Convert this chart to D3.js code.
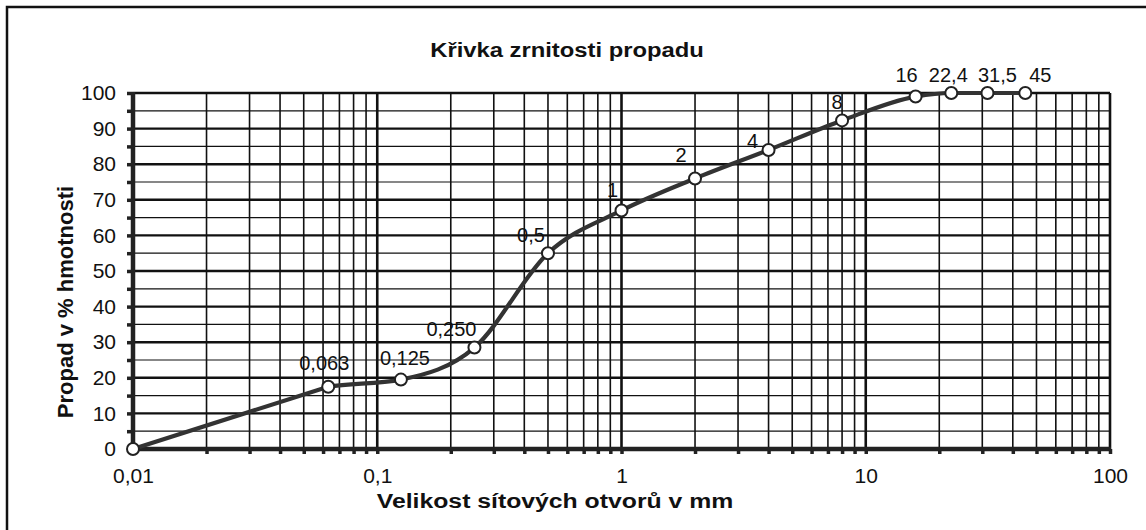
<!DOCTYPE html>
<html>
<head>
<meta charset="utf-8">
<script src="https://cdn.jsdelivr.net/npm/d3@7"></script>
<style>
  html, body { margin: 0; padding: 0; background: #fff; }
  svg { display: block; }
  text { font-family: Arial, "Liberation Sans", Helvetica, sans-serif; fill: #111; }
</style>
</head>
<body>
<svg id="chart" width="1146" height="530"></svg>
<script>
// ---- data ----
const sieveSizes = [0.01, 0.063, 0.125, 0.25, 0.5, 1, 2, 4, 8, 16, 22.4, 31.5, 45];
const passing    = [0, 17.5, 19.5, 28.5, 55, 67, 76, 84, 92.3, 99, 100, 100, 100];
const pointLabels = ["", "0,063", "0,125", "0,250", "0,5", "1", "2", "4", "8", "16", "22,4", "31,5", "45"];
const xTickValues = [0.01, 0.1, 1, 10, 100];
const xTickLabels = ["0,01", "0,1", "1", "10", "100"];
const yTickValues = [0, 10, 20, 30, 40, 50, 60, 70, 80, 90, 100];
const titleText = "Křivka zrnitosti propadu";
const xTitleText = "Velikost sítových otvorů v mm";
const yTitleText = "Propad v % hmotnosti";

// ---- layout (label placement offsets, px) ----
const labelOffsets = [[0,0],[-4,-17],[4,-15],[-23,-12],[-17,-11],[-9,-13],[-14,-16],[-16,-2],[-5,-11],[-9,-15],[-3,-11],[10,-11],[15,-11]];

const svg = d3.select("#chart");
const L = 133, R = 1110, T = 93, B = 449;
const x = d3.scaleLog().domain([0.01, 100]).range([L, R]);
const y = d3.scaleLinear().domain([0, 100]).range([B, T]);

// outer frame (left and top visible)
svg.append("path")
  .attr("d", `M7,540 L7,7 L1150,7`)
  .attr("fill", "none").attr("stroke", "#111").attr("stroke-width", 2.5);

// grid values
const vGrid = [];
[0.01, 0.1, 1, 10].forEach(d => { for (let k = 1; k <= 9; k++) vGrid.push({v: +(k * d).toPrecision(3), major: k === 1}); });
vGrid.push({v: 100, major: true});
const hGrid = d3.range(0, 101, 5).map(v => ({v, major: v % 10 === 0}));

const g = svg.append("g");
g.selectAll("line.h").data(hGrid).join("line")
  .attr("x1", L).attr("x2", R)
  .attr("y1", d => y(d.v)).attr("y2", d => y(d.v))
  .attr("stroke", "#111").attr("stroke-width", d => d.major ? 2.4 : 1.2);
g.selectAll("line.v").data(vGrid).join("line")
  .attr("y1", T).attr("y2", B)
  .attr("x1", d => x(d.v)).attr("x2", d => x(d.v))
  .attr("stroke", "#111").attr("stroke-width", d => d.major ? 2.6 : 1.6);

// axes
const xAxis = d3.axisBottom(x)
  .tickValues(vGrid.map(d => d.v))
  .tickSize(5).tickPadding(14)
  .tickFormat(d => { const i = xTickValues.findIndex(t => Math.abs(t - d) < 1e-9); return i >= 0 ? xTickLabels[i] : ""; });
const gx = svg.append("g").attr("transform", `translate(0,${B})`).call(xAxis);
gx.select(".domain").remove();
gx.selectAll(".tick line").attr("stroke", "#222").attr("stroke-width", 3.5);
gx.selectAll(".tick text").attr("font-size", 21).attr("fill", "#111");

const yAxis = d3.axisLeft(y)
  .tickValues(d3.range(0, 101, 5))
  .tickSize(6).tickPadding(11)
  .tickFormat(d => yTickValues.includes(d) ? String(d) : "");
const gy = svg.append("g").attr("transform", `translate(${L},0)`).call(yAxis);
gy.select(".domain").remove();
gy.selectAll(".tick line").attr("stroke", "#222").attr("stroke-width", 3.5);
gy.selectAll(".tick text").attr("font-size", 21).attr("fill", "#111");

// thick axis lines
svg.append("line").attr("x1", L).attr("x2", L).attr("y1", T - 1).attr("y2", B + 2)
  .attr("stroke", "#222").attr("stroke-width", 4.5);
svg.append("line").attr("x1", L - 2).attr("x2", R + 1).attr("y1", B).attr("y2", B)
  .attr("stroke", "#222").attr("stroke-width", 4.5);

// curve: straight first segment, smooth afterwards
const pts = sieveSizes.map((s, i) => ({s, p: passing[i], label: pointLabels[i], off: labelOffsets[i]}));
const smooth = d3.line().x(d => x(d.s)).y(d => y(d.p)).curve(d3.curveMonotoneX);
const straight = d3.line().x(d => x(d.s)).y(d => y(d.p));
svg.append("clipPath").attr("id", "afterSecond")
  .append("rect").attr("x", x(sieveSizes[1])).attr("y", 0).attr("width", 1146).attr("height", 530);
svg.append("path").datum(pts).attr("d", smooth).attr("clip-path", "url(#afterSecond)")
  .attr("fill", "none").attr("stroke", "#333").attr("stroke-width", 4.2)
  .attr("stroke-linejoin", "round");
svg.append("path").datum(pts.slice(0, 2)).attr("d", straight)
  .attr("fill", "none").attr("stroke", "#333").attr("stroke-width", 4.2)
  .attr("stroke-linecap", "round");

svg.selectAll("circle.pt").data(pts).join("circle")
  .attr("cx", d => x(d.s)).attr("cy", d => y(d.p)).attr("r", 6)
  .attr("fill", "#fff").attr("stroke", "#222").attr("stroke-width", 2);

svg.selectAll("text.pl").data(pts.filter(d => d.label)).join("text")
  .attr("x", d => x(d.s) + d.off[0]).attr("y", d => y(d.p) + d.off[1])
  .attr("text-anchor", "middle").attr("font-size", 20).text(d => d.label);

// titles (bold face in the reference is slightly wide: scale horizontally)
svg.append("text").attr("transform", "translate(567,57) scale(1.19,1)").attr("text-anchor", "middle")
  .attr("font-size", 20).attr("font-weight", "bold").text(titleText);
svg.append("text").attr("transform", "translate(555,508) scale(1.18,1)").attr("text-anchor", "middle")
  .attr("font-size", 21).attr("font-weight", "bold").text(xTitleText);
svg.append("text").attr("transform", "translate(73,302) rotate(-90)").attr("text-anchor", "middle")
  .attr("font-size", 22).attr("font-weight", "bold").text(yTitleText);
</script>
</body>
</html>
